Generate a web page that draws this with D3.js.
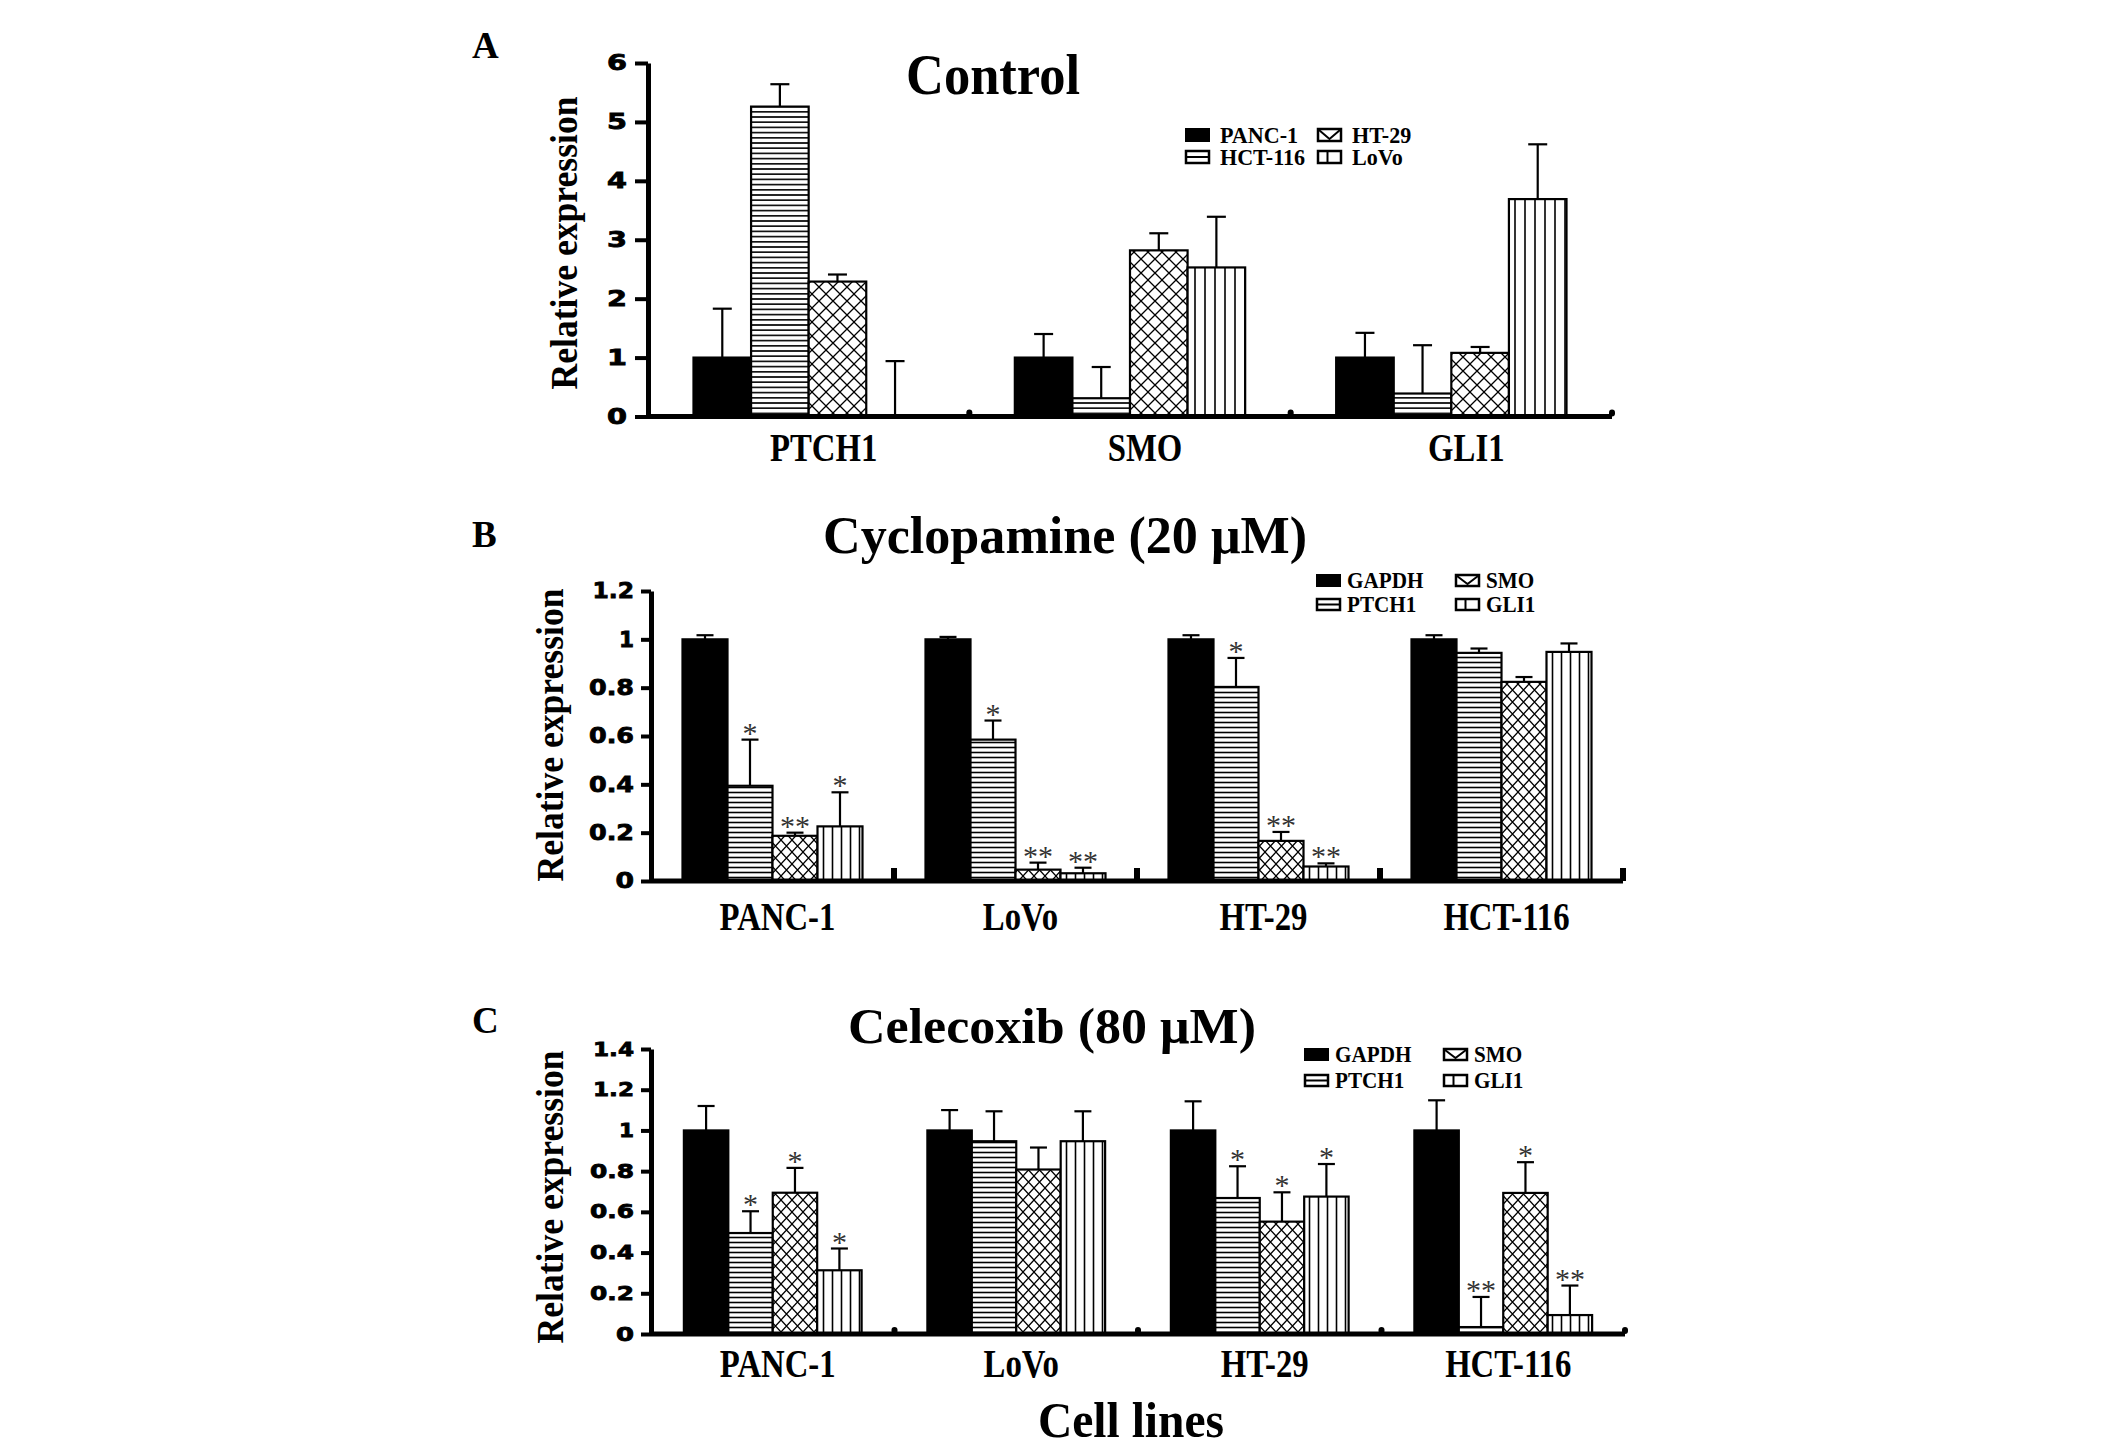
<!DOCTYPE html>
<html>
<head>
<meta charset="utf-8">
<script src="https://cdn.jsdelivr.net/npm/d3@7"></script>
<style>
  body { margin: 0; background: #fff; }
  svg { display: block; }
</style>
</head>
<body>
<svg id="fig" width="2126" height="1448"></svg>
<script>
// ---- panel A: control ----
var controlGenes = ['PTCH1', 'SMO', 'GLI1'];
var controlLines = ['PANC-1', 'HCT-116', 'HT-29', 'LoVo'];
// rows follow controlLines, columns follow controlGenes
var controlMean = [
  [1.0, 1.0, 1.0],
  [5.26, 0.31, 0.39],
  [2.29, 2.82, 1.08],
  [0.0, 2.53, 3.69]
];
// upper end of each error bar
var controlTop = [
  [1.83, 1.40, 1.42],
  [5.64, 0.84, 1.21],
  [2.41, 3.11, 1.18],
  [0.94, 3.39, 4.62]
];
var controlTicks = [0, 1, 2, 3, 4, 5, 6];

// ---- panels B and C share categories and genes ----
var cellLines = ['PANC-1', 'LoVo', 'HT-29', 'HCT-116'];
var genes = ['GAPDH', 'PTCH1', 'SMO', 'GLI1'];

// B: cyclopamine 20 uM (rows follow genes)
var cycloMean = [
  [1.0, 1.0, 1.0, 1.0],
  [0.394, 0.585, 0.803, 0.944],
  [0.187, 0.047, 0.166, 0.824],
  [0.226, 0.032, 0.060, 0.948]
];
var cycloTop = [
  [1.017, 1.010, 1.017, 1.017],
  [0.585, 0.664, 0.923, 0.962],
  [0.200, 0.076, 0.203, 0.844],
  [0.367, 0.055, 0.073, 0.983]
];
var cycloStars = [
  ['', '', '', ''],
  ['*', '*', '*', ''],
  ['**', '**', '**', ''],
  ['*', '**', '**', '']
];
var cycloTicks = [0, 0.2, 0.4, 0.6, 0.8, 1, 1.2];

// C: celecoxib 80 uM
var celeMean = [
  [1.0, 1.0, 1.0, 1.0],
  [0.496, 0.947, 0.668, 0.034],
  [0.694, 0.808, 0.552, 0.693],
  [0.313, 0.947, 0.675, 0.093]
];
var celeTop = [
  [1.120, 1.100, 1.143, 1.148],
  [0.603, 1.094, 0.824, 0.182],
  [0.816, 0.916, 0.696, 0.844],
  [0.420, 1.094, 0.835, 0.238]
];
var celeStars = [
  ['', '', '', ''],
  ['*', '', '*', '**'],
  ['*', '', '*', '*'],
  ['*', '', '*', '**']
];
var celeTicks = [0, 0.2, 0.4, 0.6, 0.8, 1, 1.2, 1.4];

var SERIF = '"Liberation Serif", "Times New Roman", serif';
var SANS = '"DejaVu Sans", Verdana, sans-serif';

var svg = d3.select('#fig');
var defs = svg.append('defs');

// fill patterns: 0 solid, 1 horizontal lines, 2 cross hatch, 3 vertical lines
function addPatterns(suffix, hGap, hw, hh, vGap) {
  var h = defs.append('pattern').attr('id', 'hl' + suffix)
    .attr('patternUnits', 'userSpaceOnUse').attr('width', 10).attr('height', hGap);
  h.append('rect').attr('width', 10).attr('height', hGap).attr('fill', '#fff');
  h.append('line').attr('x1', 0).attr('x2', 10).attr('y1', hGap / 2).attr('y2', hGap / 2)
    .attr('stroke', '#000').attr('stroke-width', 1.6);

  var x = defs.append('pattern').attr('id', 'xh' + suffix)
    .attr('patternUnits', 'userSpaceOnUse').attr('width', hw).attr('height', hh);
  x.append('rect').attr('width', hw).attr('height', hh).attr('fill', '#fff');
  x.append('path').attr('d', 'M-1,' + (-hh / hw) + 'L' + (hw + 1) + ',' + (hh + hh / hw) +
      'M' + (hw + 1) + ',' + (-hh / hw) + 'L-1,' + (hh + hh / hw))
    .attr('stroke', '#000').attr('stroke-width', 1.3).attr('fill', 'none');

  var v = defs.append('pattern').attr('id', 'vl' + suffix)
    .attr('patternUnits', 'userSpaceOnUse').attr('width', vGap).attr('height', 10);
  v.append('rect').attr('width', vGap).attr('height', 10).attr('fill', '#fff');
  v.append('line').attr('x1', vGap / 2).attr('x2', vGap / 2).attr('y1', 0).attr('y2', 10)
    .attr('stroke', '#000').attr('stroke-width', 1.6);
}
addPatterns('A', 5.2, 14, 14, 10);
addPatterns('B', 5, 11, 12, 9);

function fillFor(i, suffix) {
  if (i === 0) return '#000';
  return 'url(#' + ['', 'hl', 'xh', 'vl'][i] + suffix + ')';
}

// squeeze text horizontally to a given fraction of its natural width
function squeeze(sel, k) {
  sel.each(function() {
    var w = this.getComputedTextLength();
    d3.select(this).attr('textLength', w * k).attr('lengthAdjust', 'spacingAndGlyphs');
  });
}

// width of a stretched tick label
function tickWidth(s, o) {
  var w = 0;
  s.split('').forEach(function(ch) {
    w += ch === '.' ? o.dotW : (ch === '1' ? o.oneW : o.charW);
  });
  return w;
}

function drawPanel(o) {
  var g = svg.append('g');

  var x0 = d3.scaleBand().domain(o.cats).range([o.left, o.right]);
  var x1 = d3.scaleBand().domain(d3.range(o.series.length))
    .range([0, x0.bandwidth()]).paddingInner(0).paddingOuter(o.pad);
  var y = d3.scaleLinear().domain([0, o.yMax]).range([o.y0, o.yTop]);

  // bars
  o.series.forEach(function(s, si) {
    g.append('g').selectAll('rect')
      .data(o.cats)
      .enter().append('rect')
      .attr('x', function(c) { return x0(c) + x1(si); })
      .attr('width', x1.bandwidth())
      .attr('y', function(c, ci) { return y(o.mean[si][ci]); })
      .attr('height', function(c, ci) { return o.y0 - y(o.mean[si][ci]); })
      .attr('fill', fillFor(si, o.suffix))
      .attr('stroke', '#000')
      .attr('stroke-width', 2.2);
  });

  // error bars (upper half only)
  o.series.forEach(function(s, si) {
    var eb = g.append('g').attr('stroke', '#000').attr('stroke-width', 2.2);
    o.cats.forEach(function(c, ci) {
      var cx = x0(c) + x1(si) + x1.bandwidth() / 2;
      var yt = y(o.top[si][ci]);
      eb.append('line').attr('x1', cx).attr('x2', cx)
        .attr('y1', y(o.mean[si][ci])).attr('y2', yt);
      eb.append('line').attr('x1', cx - o.cap / 2).attr('x2', cx + o.cap / 2)
        .attr('y1', yt).attr('y2', yt);
      if (o.stars && o.stars[si][ci]) {
        g.append('text')
          .attr('x', cx).attr('y', yt + 3)
          .attr('text-anchor', 'middle')
          .style('font-family', SERIF).style('font-size', '30px')
          .style('fill', '#333')
          .text(o.stars[si][ci]);
      }
    });
  });

  // y axis
  var yAxis = d3.axisLeft(y).tickValues(o.ticks)
    .tickSizeInner(o.tickSize).tickSizeOuter(0).tickPadding(o.tickPad)
    .tickFormat(function(d) { return String(d); });
  var ya = g.append('g').attr('transform', 'translate(' + o.left + ',0)').call(yAxis);
  ya.select('.domain').attr('stroke', '#000').attr('stroke-width', 5);
  ya.selectAll('.tick line').attr('stroke', '#000').attr('stroke-width', 4);
  ya.selectAll('.tick text')
    .style('font-family', SANS).style('font-weight', 'bold')
    .style('font-size', o.tickFont + 'px').attr('fill', '#000')
    .attr('stroke', '#000').attr('stroke-width', 0.8)
    .attr('textLength', function(d) { return tickWidth(String(d), o); })
    .attr('lengthAdjust', 'spacingAndGlyphs');

  // x axis line
  g.append('line')
    .attr('x1', o.left).attr('x2', o.right)
    .attr('y1', o.y0).attr('y2', o.y0)
    .attr('stroke', '#000').attr('stroke-width', 5);

  // group separators on the x axis
  g.append('g').selectAll('rect')
    .data(o.cats)
    .enter().append('rect')
    .attr('x', function(c) { return x0(c) + x0.bandwidth() - 3; })
    .attr('y', o.y0 - o.sepH)
    .attr('width', 6)
    .attr('height', o.sepH)
    .attr('rx', o.sepStyle === 'dot' ? 3 : 0)
    .attr('fill', '#000');

  // category labels
  g.append('g').selectAll('text')
    .data(o.cats)
    .enter().append('text')
    .attr('x', function(c) { return x0(c) + x0.bandwidth() / 2 + o.labelDx; })
    .attr('y', o.labelY)
    .attr('text-anchor', 'middle')
    .style('font-family', SERIF).style('font-weight', 'bold').style('font-size', '39px')
    .text(function(c) { return c; })
    .call(squeeze, 0.84);

  // y axis title
  g.append('text')
    .attr('transform', 'translate(' + o.yLabelX + ',' + o.yLabelY + ') rotate(-90)')
    .attr('text-anchor', 'middle')
    .attr('textLength', 293).attr('lengthAdjust', 'spacingAndGlyphs')
    .style('font-family', SERIF).style('font-weight', 'bold').style('font-size', '37px')
    .text('Relative expression');

  // panel title
  g.append('text')
    .attr('x', o.titleX).attr('y', o.titleY)
    .attr('textLength', o.titleW).attr('lengthAdjust', 'spacingAndGlyphs')
    .style('font-family', SERIF).style('font-weight', 'bold').style('font-size', o.titleFont + 'px')
    .text(o.title);

  // panel letter
  g.append('text')
    .attr('x', 472).attr('y', o.letterY)
    .style('font-family', SERIF).style('font-weight', 'bold').style('font-size', '37px')
    .text(o.letter);

  // legend: two columns, order as in the figure
  var lg = g.append('g');
  var slots = [[0, 0], [0, 1], [1, 0], [1, 1]]; // [col,row] for series 0..3
  o.series.forEach(function(s, si) {
    var col = slots[si][0], row = slots[si][1];
    var bx = o.legend.cols[col], by = o.legend.rows[row];
    var bw = 25, bh = o.legend.boxH;
    var top = by - bh - 1;
    if (si === 0) {
      lg.append('rect').attr('x', bx).attr('y', top).attr('width', bw).attr('height', bh).attr('fill', '#000');
    } else {
      lg.append('rect').attr('x', bx + 1).attr('y', top + 1).attr('width', bw - 2).attr('height', bh - 2)
        .attr('fill', '#fff').attr('stroke', '#000').attr('stroke-width', 2.5);
      var d;
      if (si === 1) d = 'M' + bx + ',' + (top + bh / 2) + 'H' + (bx + bw);
      else if (si === 2) d = 'M' + (bx + 2) + ',' + (top + 2) + 'L' + (bx + bw / 2) + ',' + (top + bh - 3) + 'L' + (bx + bw - 2) + ',' + (top + 2);
      else d = 'M' + (bx + bw / 2 - 2) + ',' + top + 'V' + (top + bh);
      lg.append('path').attr('d', d).attr('stroke', '#000').attr('stroke-width', 2).attr('fill', 'none');
    }
    lg.append('text')
      .attr('x', bx + o.legend.textDx).attr('y', by)
      .style('font-family', SERIF).style('font-weight', 'bold').style('font-size', o.legend.font + 'px')
      .text(s)
      .call(squeeze, 0.92);
  });
}

drawPanel({
  cats: controlGenes, series: controlLines, mean: controlMean, top: controlTop, stars: null,
  left: 648, right: 1612, y0: 416.5, yTop: 63, yMax: 6, ticks: controlTicks,
  pad: 0.79, suffix: 'A', cap: 19,
  tickSize: 13, tickPad: 8, tickFont: 21, charW: 20, oneW: 20, dotW: 7,
  sepStyle: 'dot', sepH: 7, labelY: 461, labelDx: 15,
  yLabelX: 577, yLabelY: 243,
  title: 'Control', titleX: 906, titleY: 94, titleW: 174, titleFont: 56,
  letter: 'A', letterY: 58,
  legend: { cols: [1185, 1317], rows: [143, 165], textDx: 35, font: 24, boxH: 14 }
});

drawPanel({
  cats: cellLines, series: genes, mean: cycloMean, top: cycloTop, stars: cycloStars,
  left: 651, right: 1623, y0: 881, yTop: 591, yMax: 1.2, ticks: cycloTicks,
  pad: 0.7, suffix: 'B', cap: 17,
  tickSize: 10, tickPad: 7, tickFont: 21, charW: 18.5, oneW: 15, dotW: 8,
  sepStyle: 'tick', sepH: 13, labelY: 930, labelDx: 5,
  yLabelX: 563, yLabelY: 735,
  title: 'Cyclopamine (20 \u03bcM)', titleX: 823, titleY: 553, titleW: 484, titleFont: 52,
  letter: 'B', letterY: 547,
  legend: { cols: [1316, 1455], rows: [588, 612], textDx: 31, font: 23, boxH: 13 }
});

drawPanel({
  cats: cellLines, series: genes, mean: celeMean, top: celeTop, stars: celeStars,
  left: 651, right: 1625, y0: 1334, yTop: 1049, yMax: 1.4, ticks: celeTicks,
  pad: 0.74, suffix: 'B', cap: 17,
  tickSize: 10, tickPad: 7, tickFont: 19, charW: 18, oneW: 15, dotW: 8,
  sepStyle: 'dot', sepH: 7, labelY: 1377, labelDx: 5,
  yLabelX: 563, yLabelY: 1197,
  title: 'Celecoxib (80 \u03bcM)', titleX: 848, titleY: 1043, titleW: 408, titleFont: 50,
  letter: 'C', letterY: 1033,
  legend: { cols: [1304, 1443], rows: [1062, 1088], textDx: 31, font: 23, boxH: 13 }
});

// shared x axis title
svg.append('text')
  .attr('x', 1038).attr('y', 1437)
  .attr('textLength', 186).attr('lengthAdjust', 'spacingAndGlyphs')
  .style('font-family', SERIF).style('font-weight', 'bold').style('font-size', '50px')
  .text('Cell lines');
</script>
</body>
</html>
